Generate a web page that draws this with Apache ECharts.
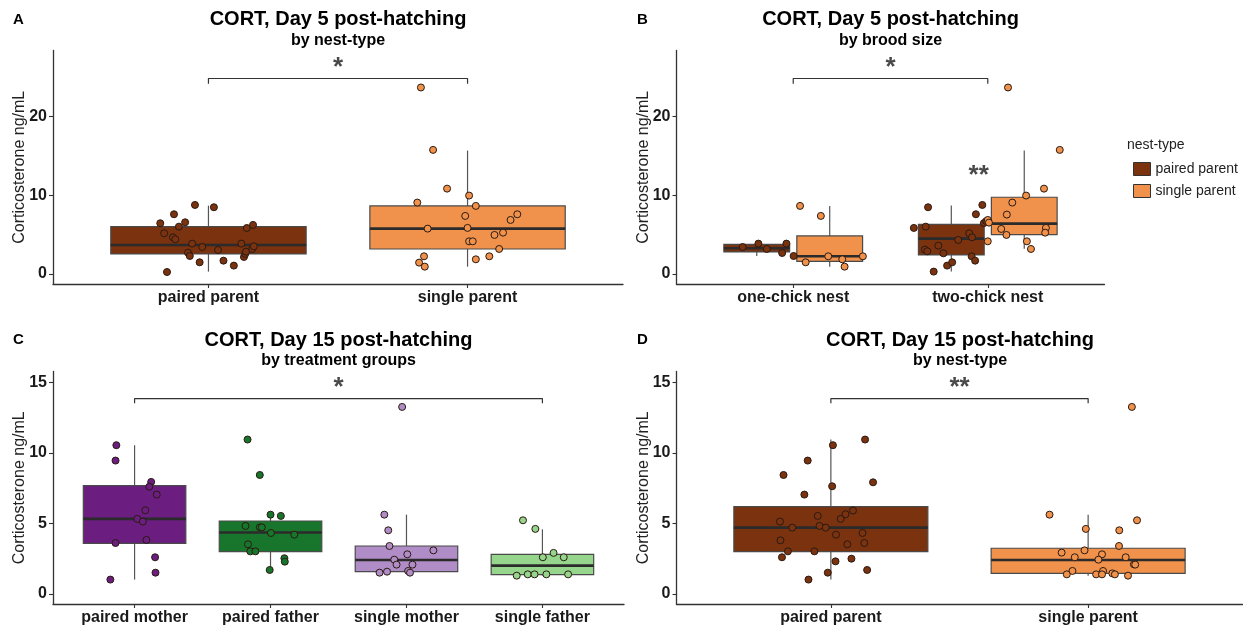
<!DOCTYPE html>
<html><head><meta charset="utf-8">
<script src="https://cdn.jsdelivr.net/npm/echarts@6/dist/echarts.min.js"></script>
<style>html,body{margin:0;padding:0;background:#fff}#c{width:1243px;height:630px}</style>
</head><body><div id="c"></div>
<script>
// ---------------- categories & ticks ----------------
const catsA = ['paired parent', 'single parent'];
const catsB = ['one-chick nest', 'two-chick nest'];
const catsC = ['paired mother', 'paired father', 'single mother', 'single father'];
const catsD = ['paired parent', 'single parent'];
const yTicksAB = [0, 10, 20];
const yTicksCD = [0, 5, 10, 15];
const legendNames = ['paired parent', 'single parent'];

// ---------------- box statistics [lower whisker, Q1, median, Q3, upper whisker] ----------------
const boxA_paired = [0.3, 2.54, 3.68, 6.0, 8.67];
const boxA_single = [0.93, 3.17, 5.75, 8.63, 15.65];
const boxB_onePaired = [2.28, 2.79, 3.26, 3.76, 3.85];
const boxB_oneSingle = [0.93, 1.61, 2.24, 4.82, 8.63];
const boxB_twoPaired = [0.3, 2.41, 4.48, 6.3, 8.67];
const boxB_twoSingle = [3.2, 4.99, 6.38, 9.73, 15.65];
const boxC_pairedMother = [1.02, 3.59, 5.32, 7.68, 10.54];
const boxC_pairedFather = [1.7, 3.0, 4.35, 5.17, 5.55];
const boxC_singleMother = [1.42, 1.58, 2.41, 3.4, 5.62];
const boxC_singleFather = [1.3, 1.37, 2.01, 2.81, 4.58];
const boxD_paired = [1.02, 3.0, 4.7, 6.19, 10.94];
const boxD_single = [1.3, 1.46, 2.41, 3.24, 5.62];

// ---------------- individual points (values) and their jitter ----------------
const ptsA_paired = [6.43,5.16,7.57,4.65,4.4,6.0,6.55,2.7,2.28,3.85,8.75,1.48,3.42,8.46,3.04,1.69,1.06,3.85,2.16,2.54,2.83,5.83,3.17,6.22,3.51,0.25];
const jitA_paired = [-0.186,-0.171,-0.133,-0.137,-0.128,-0.114,-0.09,-0.079,-0.072,-0.063,-0.052,-0.034,-0.024,0.021,0.037,0.058,0.098,0.127,0.137,0.142,0.145,0.148,0.169,0.172,0.175,-0.16];
const ptsA_single = [23.64,15.73,10.82,9.94,9.05,8.63,7.36,7.57,6.85,5.75,5.84,5.24,4.95,4.14,4.14,3.17,2.24,2.24,1.86,1.44,0.93];
const jitA_single = [-0.18,-0.133,-0.079,0.006,-0.194,0.032,-0.009,0.192,0.166,-0.154,0,0.137,0.104,0.006,0.02,0.122,-0.168,0.084,0.032,-0.187,-0.165];

const ptsB_onePaired = [3.42,3.85,3.17,2.66,3.85,2.28];
const jitB_onePaired = [-0.26,-0.179,-0.136,-0.057,-0.035,0.002];
const ptsB_oneSingle = [8.63,7.36,1.48,2.24,1.86,0.93,2.24];
const jitB_oneSingle = [0.035,0.142,0.064,0.18,0.252,0.264,0.358];
const ptsB_twoPaired = [5.84,8.46,6.0,3.09,2.88,3.59,2.62,0.3,1.06,1.48,4.31,5.16,4.65,7.57,8.75,2.24,1.69,6.45,6.7];
const jitB_twoPaired = [-0.38,-0.307,-0.319,-0.323,-0.311,-0.254,-0.228,-0.278,-0.209,-0.183,-0.152,-0.095,-0.081,-0.061,-0.028,-0.083,-0.065,-0.02,-0.008];
const ptsB_twoSingle = [23.64,15.73,10.82,9.94,9.05,7.53,6.85,6.51,5.71,5.84,5.24,4.95,4.14,4.14,3.17];
const jitB_twoSingle = [0.104,0.37,0.289,0.197,0.126,0.098,0,0.006,0.069,0.299,0.295,0.096,0,0.201,0.222];

const ptsC_pairedMother = [10.54,9.45,7.94,7.6,7.04,5.93,5.32,5.13,3.83,3.61,2.6,1.51,1.02];
const jitC_pairedMother = [-0.134,-0.14,0.122,0.108,0.163,0.079,0.02,0.061,0.087,-0.14,0.151,0.154,-0.178];
const ptsC_pairedFather = [10.94,8.43,5.62,5.53,4.82,4.72,4.72,4.32,4.2,3.52,3.02,3.02,2.53,2.29,1.7];
const jitC_pairedFather = [-0.169,-0.079,0,0.076,-0.184,-0.079,-0.064,0.003,0.175,-0.166,-0.149,-0.111,0.102,0.105,-0.006];
const ptsC_singleMother = [13.25,5.62,4.51,3.4,3.09,2.81,2.43,2.08,2.08,1.63,1.51,1.58,1.51];
const jitC_singleMother = [-0.032,-0.163,-0.134,-0.125,0.198,0.006,-0.09,-0.073,0.044,0.012,0.026,-0.143,-0.198];
const ptsC_singleFather = [5.22,4.61,2.91,2.6,2.6,1.3,1.39,1.39,1.39,1.39];
const jitC_singleFather = [-0.143,-0.052,0.082,0.003,0.157,-0.189,-0.108,-0.058,0.029,0.189];

const ptsD_paired = [10.94,10.54,9.45,8.43,7.91,7.63,7.04,5.91,5.65,5.32,5.53,5.13,4.82,4.7,4.7,4.2,4.32,3.8,3.61,3.52,3.02,3.02,2.6,2.5,2.31,1.7,1.51,1.02];
const jitD_paired = [0.133,0.008,-0.09,-0.184,0.164,0.005,-0.103,0.086,0.057,0.038,-0.051,-0.198,-0.044,-0.02,-0.15,0.02,0.123,-0.196,0.13,0.064,-0.167,-0.064,-0.19,0.08,0.018,0.141,-0.012,-0.087];
const ptsD_single = [13.25,5.62,5.22,4.61,4.51,3.4,3.09,2.93,2.81,2.6,2.6,2.43,2.1,2.08,1.63,1.39,1.63,1.39,1.39,1.46,1.39,1.3];
const jitD_single = [0.17,-0.15,0.19,-0.009,0.121,0.12,-0.014,-0.103,0.054,-0.052,0.146,0.04,0.178,0.183,-0.061,-0.083,0.058,0.031,0.054,0.094,0.104,0.155];

// ---------------- significance brackets [tick bottom, bracket top] and labels ----------------
const bracketAB = [24.1, 24.78];
const bracketCD = [13.51, 13.84];
const sigStarAB = 27.1;
const sigStarCD = 15.17;
const sigB_inner = [1.953, 13.4];

// ---------------- styling ----------------
const FONT = '"Liberation Sans", Arial, Helvetica, sans-serif';
const BROWN = '#7a320f', ORANGE = '#f0924b';
const PURPLE = '#6b1d80', DKGREEN = '#18762c', LTPURPLE = '#b08dc6', LTGREEN = '#96d68c';

const grids = [
  {left: 53, top: 50.5, width: 570, height: 233.5},
  {left: 676.5, top: 50.5, width: 428, height: 233.5},
  {left: 53, top: 371.5, width: 571, height: 232.5},
  {left: 676.5, top: 371.5, width: 566, height: 232.5}
];

function xAx(gi, cats) {
  const vals = cats.map((c, i) => i + 1);
  return {
    type: 'value', gridIndex: gi, min: 0.4, max: cats.length + 0.6,
    splitLine: {show: false},
    axisLine: {onZero: false, lineStyle: {color: '#333', width: 1.3}},
    axisTick: {show: true, length: 4, customValues: vals, lineStyle: {color: '#333', width: 1.1}},
    axisLabel: {customValues: vals, formatter: v => cats[Math.round(v) - 1] || '',
      fontSize: 16, fontWeight: 'bold', color: '#1a1a1a', margin: 6, fontFamily: FONT}
  };
}
function yAx(gi, min, max, ticks) {
  return {
    type: 'value', gridIndex: gi, min: min, max: max,
    name: 'Corticosterone ng/mL', nameLocation: 'middle', nameGap: 25, nameMoveOverlap: false,
    nameTextStyle: {fontSize: 16, color: '#222', fontFamily: FONT},
    splitLine: {show: false},
    axisLine: {show: true, onZero: false, lineStyle: {color: '#333', width: 1.3}},
    axisTick: {show: true, length: 4, customValues: ticks, lineStyle: {color: '#333', width: 1.1}},
    axisLabel: {customValues: ticks, fontSize: 16, fontWeight: 'bold', color: '#1a1a1a', margin: 6, fontFamily: FONT}
  };
}

function boxSeries(name, gi, x, stats, color, halfW) {
  return {
    name: name, type: 'custom', xAxisIndex: gi, yAxisIndex: gi, z: 2, silent: true,
    itemStyle: {color: color},
    data: [[x].concat(stats)],
    encode: {x: 0, y: [1, 2, 3, 4, 5]},
    renderItem: function (params, api) {
      const cx = api.value(0);
      const pLo = api.coord([cx, api.value(1)]), pQ1 = api.coord([cx, api.value(2)]),
            pMd = api.coord([cx, api.value(3)]), pQ3 = api.coord([cx, api.value(4)]),
            pHi = api.coord([cx, api.value(5)]);
      const hw = api.size([halfW, 0])[0];
      const X = pMd[0];
      return {type: 'group', children: [
        {type: 'line', shape: {x1: X, y1: pHi[1], x2: X, y2: pQ3[1]}, style: {stroke: '#555', lineWidth: 1.2}},
        {type: 'line', shape: {x1: X, y1: pQ1[1], x2: X, y2: pLo[1]}, style: {stroke: '#555', lineWidth: 1.2}},
        {type: 'rect', shape: {x: X - hw, y: pQ3[1], width: 2 * hw, height: pQ1[1] - pQ3[1]},
          style: {fill: color, stroke: '#4a4a4a', lineWidth: 1.2}},
        {type: 'line', shape: {x1: X - hw, y1: pMd[1], x2: X + hw, y2: pMd[1]}, style: {stroke: '#2b2b2b', lineWidth: 2.6}}
      ]};
    }
  };
}
function ptsSeries(name, gi, cx, vals, jit, color) {
  return {
    name: name, type: 'scatter', xAxisIndex: gi, yAxisIndex: gi, z: 3, silent: true,
    symbolSize: 7,
    data: vals.map((v, i) => [cx + jit[i], v]),
    itemStyle: {color: color, borderColor: '#2a1a12', borderWidth: 1, opacity: 1}
  };
}
function bracket(gi, x1, x2, b) {
  return {type: 'line', xAxisIndex: gi, yAxisIndex: gi, z: 1, silent: true, symbol: 'none',
    data: [[x1, b[0]], [x1, b[1]], [x2, b[1]], [x2, b[0]]],
    lineStyle: {color: '#333', width: 1.2}};
}
function sig(gi, x, y, text) {
  return {type: 'scatter', xAxisIndex: gi, yAxisIndex: gi, z: 4, silent: true,
    symbol: 'circle', symbolSize: 1, itemStyle: {color: 'rgba(0,0,0,0)'},
    data: [[x, y]],
    label: {show: true, formatter: text, position: 'inside', fontSize: 26, fontWeight: 'bold', color: '#1a1a1a',
      fontFamily: FONT, offset: [0, 8]}};
}
function titleItem(text, x, y, size, weight) {
  return {text: text, left: x, top: y, textAlign: 'center', padding: 0,
    textStyle: {fontSize: size, fontWeight: weight, color: '#000', fontFamily: FONT}};
}
function letterItem(text, x, y) {
  return {text: text, left: x, top: y, padding: 0,
    textStyle: {fontSize: 15, fontWeight: 'bold', color: '#000', fontFamily: FONT}};
}

const dodge = 0.1875;
const series = [
  // Panel A
  bracket(0, 1, 2, bracketAB), sig(0, 1.5, sigStarAB, '*'),
  boxSeries('A paired', 0, 1, boxA_paired, BROWN, 0.377),
  boxSeries('A single', 0, 2, boxA_single, ORANGE, 0.377),
  ptsSeries('A paired pts', 0, 1, ptsA_paired, jitA_paired, BROWN),
  ptsSeries('A single pts', 0, 2, ptsA_single, jitA_single, ORANGE),
  // Panel B
  bracket(1, 1, 2, bracketAB), sig(1, 1.5, sigStarAB, '*'), sig(1, sigB_inner[0], sigB_inner[1], '**'),
  boxSeries('paired parent', 1, 1 - dodge, boxB_onePaired, BROWN, 0.169),
  boxSeries('single parent', 1, 1 + dodge, boxB_oneSingle, ORANGE, 0.169),
  boxSeries('paired parent', 1, 2 - dodge, boxB_twoPaired, BROWN, 0.169),
  boxSeries('single parent', 1, 2 + dodge, boxB_twoSingle, ORANGE, 0.169),
  ptsSeries('B1p', 1, 1, ptsB_onePaired, jitB_onePaired, BROWN),
  ptsSeries('B1s', 1, 1, ptsB_oneSingle, jitB_oneSingle, ORANGE),
  ptsSeries('B2p', 1, 2, ptsB_twoPaired, jitB_twoPaired, BROWN),
  ptsSeries('B2s', 1, 2, ptsB_twoSingle, jitB_twoSingle, ORANGE),
  // Panel C
  bracket(2, 1, 4, bracketCD), sig(2, 2.5, sigStarCD, '*'),
  boxSeries('C pm', 2, 1, boxC_pairedMother, PURPLE, 0.377),
  boxSeries('C pf', 2, 2, boxC_pairedFather, DKGREEN, 0.377),
  boxSeries('C sm', 2, 3, boxC_singleMother, LTPURPLE, 0.377),
  boxSeries('C sf', 2, 4, boxC_singleFather, LTGREEN, 0.377),
  ptsSeries('C pm pts', 2, 1, ptsC_pairedMother, jitC_pairedMother, PURPLE),
  ptsSeries('C pf pts', 2, 2, ptsC_pairedFather, jitC_pairedFather, DKGREEN),
  ptsSeries('C sm pts', 2, 3, ptsC_singleMother, jitC_singleMother, LTPURPLE),
  ptsSeries('C sf pts', 2, 4, ptsC_singleFather, jitC_singleFather, LTGREEN),
  // Panel D
  bracket(3, 1, 2, bracketCD), sig(3, 1.5, sigStarCD, '**'),
  boxSeries('D paired', 3, 1, boxD_paired, BROWN, 0.377),
  boxSeries('D single', 3, 2, boxD_single, ORANGE, 0.377),
  ptsSeries('D paired pts', 3, 1, ptsD_paired, jitD_paired, BROWN),
  ptsSeries('D single pts', 3, 2, ptsD_single, jitD_single, ORANGE)
];

const option = {
  backgroundColor: '#fff',
  animation: false,
  title: [
    letterItem('A', 13, 12), letterItem('B', 637, 12), letterItem('C', 13, 332), letterItem('D', 637, 332),
    titleItem('CORT, Day 5 post-hatching', 338, 9, 20, 'bold'),
    titleItem('by nest-type', 338, 33, 16, 'bold'),
    titleItem('CORT, Day 5 post-hatching', 890.5, 9, 20, 'bold'),
    titleItem('by brood size', 890.5, 33, 16, 'bold'),
    titleItem('CORT, Day 15 post-hatching', 338.5, 330, 20, 'bold'),
    titleItem('by treatment groups', 338.5, 353, 16, 'bold'),
    titleItem('CORT, Day 15 post-hatching', 960, 330, 20, 'bold'),
    titleItem('by nest-type', 960, 353, 16, 'bold'),
    {text: 'nest-type', left: 1127, top: 138, padding: 0,
      textStyle: {fontSize: 14, fontWeight: 'normal', color: '#222', fontFamily: FONT}}
  ],
  legend: {
    orient: 'vertical', left: 1128, top: 157, itemWidth: 17, itemHeight: 13, itemGap: 8,
    icon: 'rect', selectedMode: false,
    data: [
      {name: legendNames[0], itemStyle: {color: BROWN, borderColor: '#333', borderWidth: 1}},
      {name: legendNames[1], itemStyle: {color: ORANGE, borderColor: '#333', borderWidth: 1}}
    ],
    textStyle: {fontSize: 14, color: '#222', fontFamily: FONT, padding: [0, 0, 0, 0]}
  },
  grid: grids,
  xAxis: [xAx(0, catsA), xAx(1, catsB), xAx(2, catsC), xAx(3, catsD)],
  yAxis: [yAx(0, -1.27, 28.33, yTicksAB), yAx(1, -1.27, 28.33, yTicksAB),
          yAx(2, -0.71, 15.76, yTicksCD), yAx(3, -0.71, 15.76, yTicksCD)],
  series: series
};

const chart = echarts.init(document.getElementById('c'));
chart.setOption(option);
</script>
</body></html>
